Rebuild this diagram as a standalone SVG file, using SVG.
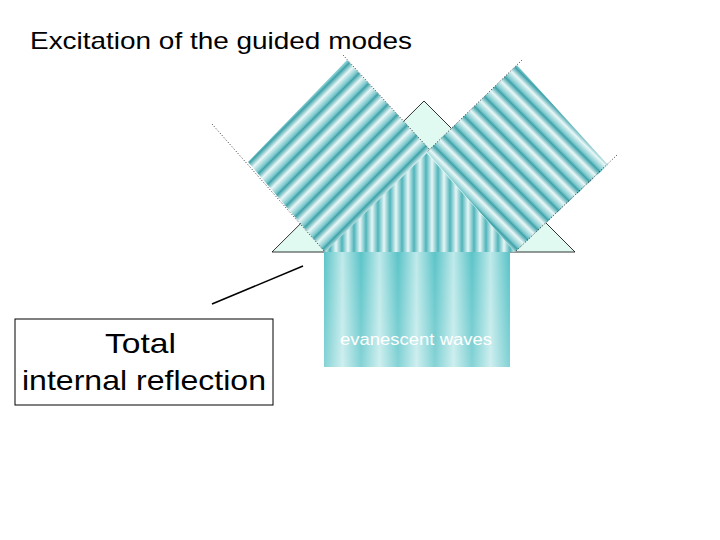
<svg xmlns="http://www.w3.org/2000/svg" width="720" height="540" viewBox="0 0 720 540">
<style>
text{font-family:"Liberation Sans",Arial,sans-serif}
.dot{stroke:#000;stroke-width:0.8;stroke-dasharray:1,2;fill:none}
</style>
<defs>
<linearGradient id="gL" gradientUnits="userSpaceOnUse" x1="0" y1="0" x2="10" y2="10" spreadMethod="repeat">
<stop offset="0" stop-color="#e8f6f6"/><stop offset="0.45" stop-color="#7cc8cc"/><stop offset="0.6" stop-color="#3fa3aa"/><stop offset="1" stop-color="#e8f6f6"/>
</linearGradient>
<linearGradient id="gR" gradientUnits="userSpaceOnUse" x1="0" y1="0" x2="-10" y2="10" spreadMethod="repeat">
<stop offset="0" stop-color="#e8f6f6"/><stop offset="0.45" stop-color="#7cc8cc"/><stop offset="0.6" stop-color="#3fa3aa"/><stop offset="1" stop-color="#e8f6f6"/>
</linearGradient>
<linearGradient id="gV" gradientUnits="userSpaceOnUse" x1="0" y1="0" x2="12" y2="0" spreadMethod="repeat">
<stop offset="0" stop-color="#e8f6f6"/><stop offset="0.5" stop-color="#4fb5ba"/><stop offset="1" stop-color="#e8f6f6"/>
</linearGradient>
<linearGradient id="gB" gradientUnits="userSpaceOnUse" x1="324" y1="0" x2="361" y2="0" spreadMethod="repeat">
<stop offset="0" stop-color="#5cc4c8"/><stop offset="0.5" stop-color="#bfe9ea"/><stop offset="1" stop-color="#5cc4c8"/>
</linearGradient>
<linearGradient id="gFade" x1="0" y1="0" x2="0" y2="1">
<stop offset="0" stop-color="#fff" stop-opacity="0"/><stop offset="1" stop-color="#fff" stop-opacity="0.25"/>
</linearGradient>
</defs>
<text x="30" y="49" font-size="24" textLength="382" lengthAdjust="spacingAndGlyphs">Excitation of the guided modes</text>
<g id="prism">
<polygon points="424,101 575,252 272,252" fill="#e0faf2" stroke="#000" stroke-width="0.8"/>
<polygon points="424,150 515,252 325,252" fill="url(#gV)"/>
</g>
<g id="beam-left">
<polygon points="347,60 248,162 325,252 430,150" fill="url(#gL)"/>
</g>
<g id="beam-right">
<polygon points="517,65 608,165 515,252 427,152" fill="url(#gR)"/>
</g>
<g id="substrate">
<rect x="324" y="252" width="186" height="115" fill="url(#gB)"/>
<rect x="324" y="252" width="186" height="115" fill="url(#gFade)"/>
<text x="340" y="345" font-size="16" fill="#fff" textLength="152" lengthAdjust="spacingAndGlyphs">evanescent waves</text>
</g>
<g id="connectors">
<line class="dot" x1="212" y1="124" x2="325" y2="252"/>
<line class="dot" x1="343" y1="55" x2="430" y2="150"/>
<line class="dot" x1="617" y1="155" x2="515" y2="252"/>
<line class="dot" x1="522" y1="60" x2="427" y2="152"/>
<line x1="212" y1="304" x2="303" y2="266" stroke="#000" stroke-width="1.5"/>
</g>
<g id="label-box">
<rect x="15" y="319" width="258" height="86" fill="#fff" stroke="#000" stroke-width="1"/>
<text x="105" y="353" font-size="28" textLength="71" lengthAdjust="spacingAndGlyphs">Total</text>
<text x="22" y="390" font-size="28" textLength="244" lengthAdjust="spacingAndGlyphs">internal reflection</text>
</g>
</svg>
